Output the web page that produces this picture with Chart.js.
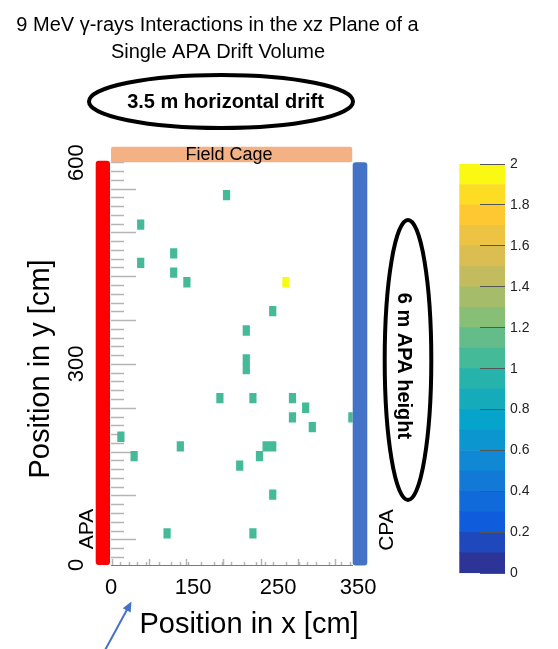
<!DOCTYPE html>
<html>
<head>
<meta charset="utf-8">
<title>9 MeV gamma interactions</title>
<script src="https://cdn.jsdelivr.net/npm/chart.js@4.4.1/dist/chart.umd.min.js"></script>
<style>
  html, body { margin: 0; padding: 0; background: #fff; }
  #wrap { position: relative; width: 558px; height: 649px; }
  #wrap canvas { position: absolute; left: 0; top: 0; }
</style>
</head>
<body>
<div id="wrap">
  <canvas id="heat" width="558" height="649"></canvas>
  <canvas id="zbar" width="558" height="649"></canvas>
</div>
<script>
// filled bins: bin centre x, bin centre y (cm), entries
var cellX = [167.3, 43.0, 90.8, 43.0, 90.8, 109.9, 253.3, 234.2, 195.9, 195.9,
             195.9, 157.7, 205.5, 262.8, 281.9, 262.8, 348.8, 291.5, 14.3, 100.4,
             224.6, 234.2, 33.5, 215.0, 186.4, 234.2, 81.2, 205.5];
var cellY = [551.6, 507.6, 464.9, 450.5, 436.1, 421.7, 421.7, 378.5, 349.7, 306.5,
             292.1, 248.9, 248.9, 248.9, 234.5, 220.1, 220.1, 205.7, 191.3, 176.9,
             176.9, 176.9, 162.5, 162.5, 148.1, 104.9, 47.3, 47.3];
var cellCount = [1, 1, 1, 1, 1, 1, 2, 1, 1, 1,
                 1, 1, 1, 1, 1, 1, 1, 1, 1, 1,
                 1, 1, 1, 1, 1, 1, 1, 1];
var binW = 9.56;   // cm
var binH = 14.4;   // cm

// axis labels as they are printed on the slide
var xTickText = ['0', '150', '250', '350'];
var xTickAt = [0, 119, 242, 358];
var yTickText = ['0', '300', '600'];
var yTickAt = [0, 300, 600];

// colour scale (z), 20 levels
var zLow  = [0, 0.1, 0.2, 0.3, 0.4, 0.5, 0.6, 0.7, 0.8, 0.9, 1.0, 1.1, 1.2, 1.3, 1.4, 1.5, 1.6, 1.7, 1.8, 1.9];
var zHigh = [0.1, 0.2, 0.3, 0.4, 0.5, 0.6, 0.7, 0.8, 0.9, 1.0, 1.1, 1.2, 1.3, 1.4, 1.5, 1.6, 1.7, 1.8, 1.9, 2.0];
var palette = ['#2d3498', '#1e48bb', '#0f5cdd', '#116ada', '#1379d7', '#1188d3', '#0c96cf', '#06a4ca',
               '#16abbb', '#26b3ab', '#45ba98', '#63bc89', '#87bf77', '#a5bd6b', '#c2bc5f', '#dabe51',
               '#ecc342', '#fec832', '#fcdd24', '#f9f914'];

var FONT = "'Liberation Sans', Arial, sans-serif";
var yTop = 600, yTickStep = 13.08;
var xTickStep = 12.9;

function colourFor (v) {
    var i = Math.floor(v / 0.1 + 1e-6);
    if (i > palette.length - 1) i = palette.length - 1;
    if (i < 0) i = 0;
    return palette[i];
}

function yTicks (major) {
    var out = [];
    for (var n = 0; yTop - n * yTickStep >= 0; n++) {
        if ((n % 5 === 3) === major) out.push({ value: yTop - n * yTickStep });
    }
    return out;
}

function xTicks (major) {
    var out = [];
    for (var n = 0; n * xTickStep <= 350; n++) {
        if ((n % 5 === 0) === major) out.push({ value: n * xTickStep });
    }
    return out;
}

function tickAxis (pos, ticksFn, len) {
    return {
        type: 'linear',
        position: pos,
        min: 0,
        max: pos === 'left' ? 600 : 350,
        weight: 0,
        afterBuildTicks: function (s) { s.ticks = ticksFn(); },
        afterFit: function (s) { if (pos === 'left') s.width = 0; else s.height = 0; },
        ticks: { display: false },
        grid: { drawOnChartArea: false, drawTicks: true, tickLength: len, tickColor: '#b4b4b4', tickWidth: 1.5 },
        border: { display: false }
    };
}

function text (ctx, str, x, y, font, rot) {
    ctx.save();
    ctx.translate(x, y);
    if (rot) ctx.rotate(rot);
    ctx.font = font;
    ctx.fillStyle = '#000';
    ctx.textAlign = 'center';
    ctx.textBaseline = 'middle';
    ctx.fillText(str, 0, 0);
    ctx.restore();
}

function box (ctx, x, y, w, h, r, colour) {
    ctx.fillStyle = colour;
    ctx.beginPath();
    if (ctx.roundRect) ctx.roundRect(x, y, w, h, r);
    else ctx.rect(x, y, w, h);
    ctx.fill();
}

function ellipse (ctx, cx, cy, rx, ry) {
    ctx.beginPath();
    ctx.ellipse(cx, cy, rx, ry, 0, 0, Math.PI * 2);
    ctx.lineWidth = 4;
    ctx.strokeStyle = '#000';
    ctx.stroke();
}

// slide decorations drawn on top of the histogram
var slideOverlay = {
    id: 'slideOverlay',
    afterDraw: function (chart) {
        var ctx = chart.ctx;
        var ca = chart.chartArea;
        ctx.save();

        text(ctx, '9 MeV \u03b3-rays Interactions in the xz Plane of a', 217.5, 25, '20px ' + FONT);
        text(ctx, 'Single APA Drift Volume', 218, 52, '20px ' + FONT);

        ellipse(ctx, 221, 101.5, 132, 26.5);
        text(ctx, '3.5 m horizontal drift', 225.5, 102, 'bold 20px ' + FONT);

        ellipse(ctx, 408, 360, 23.3, 140);
        text(ctx, '6 m APA height', 403.5, 366, 'bold 20px ' + FONT, Math.PI / 2);

        // APA, CPA and field cage
        box(ctx, ca.left - 15.3, ca.top - 2, 14.3, ca.bottom - ca.top + 2, 3, '#ff0000');
        box(ctx, ca.right, ca.top - 0.5, 14.6, ca.bottom - ca.top + 1, 3, '#4472c4');
        box(ctx, ca.left, ca.top - 16, ca.right - ca.left - 0.5, 15.6, 2, '#f4b183');
        text(ctx, 'Field Cage', 229, 155, '18px ' + FONT);
        text(ctx, 'APA', 87.5, 529, '21px ' + FONT, -Math.PI / 2);
        text(ctx, 'CPA', 387.5, 530, '21px ' + FONT, -Math.PI / 2);

        text(ctx, 'Position in y [cm]', 40.5, 369, '29px ' + FONT, -Math.PI / 2);
        text(ctx, 'Position in x [cm]', 249, 625, '29px ' + FONT);

        // arrow
        ctx.strokeStyle = '#4472c4';
        ctx.fillStyle = '#4472c4';
        ctx.lineWidth = 2;
        ctx.beginPath();
        ctx.moveTo(104, 652);
        ctx.lineTo(129, 606);
        ctx.stroke();
        ctx.save();
        ctx.translate(131.5, 601.5);
        ctx.rotate(Math.atan2(601.5 - 652, 131.5 - 104));
        ctx.beginPath();
        ctx.moveTo(0, 0);
        ctx.lineTo(-10, -4.5);
        ctx.lineTo(-10, 4.5);
        ctx.closePath();
        ctx.fill();
        ctx.restore();

        ctx.restore();
    }
};

var cells = cellX.map(function (x, i) {
    return { x: x, y: [cellY[i] - binH / 2, cellY[i] + binH / 2] };
});

new Chart(document.getElementById('heat'), {
    type: 'bar',
    data: {
        datasets: [{
            data: cells,
            backgroundColor: cellCount.map(colourFor),
            borderWidth: 0,
            barPercentage: 1,
            categoryPercentage: 1
        }]
    },
    options: {
        responsive: false,
        animation: false,
        devicePixelRatio: 1,
        events: [],
        layout: { padding: { left: 0, right: 205.3, top: 162.7, bottom: 0 } },
        plugins: { legend: { display: false }, tooltip: { enabled: false } },
        scales: {
            x: {
                type: 'linear',
                position: 'bottom',
                min: 0,
                max: 350,
                offset: false,
                weight: 10,
                afterBuildTicks: function (s) {
                    s.ticks = xTickAt.map(function (v) { return { value: v }; });
                },
                afterFit: function (s) { s.height = 84; },
                ticks: {
                    autoSkip: false,
                    maxRotation: 0,
                    minRotation: 0,
                    padding: 10,
                    color: '#000',
                    font: { family: FONT, size: 22 },
                    callback: function (v, i) { return xTickText[i]; }
                },
                grid: { display: true, drawOnChartArea: false, drawTicks: false, offset: false },
                border: { display: true, color: '#7a7a7a', width: 1 }
            },
            xMinor: tickAxis('bottom', function () { return xTicks(false); }, -3),
            xMajor: tickAxis('bottom', function () { return xTicks(true); }, -6),
            y: {
                type: 'linear',
                position: 'left',
                min: 0,
                max: 600,
                weight: 10,
                afterBuildTicks: function (s) {
                    s.ticks = yTickAt.map(function (v) { return { value: v }; });
                },
                afterFit: function (s) { s.width = 111; },
                ticks: {
                    autoSkip: false,
                    minRotation: 90,
                    maxRotation: 90,
                    crossAlign: 'center',
                    padding: 16,
                    color: '#000',
                    font: { family: FONT, size: 22 },
                    callback: function (v, i) { return yTickText[i]; }
                },
                grid: { drawOnChartArea: false, drawTicks: false },
                border: { display: false }
            },
            yMinor: tickAxis('left', function () { return yTicks(false); }, -13),
            yMajor: tickAxis('left', function () { return yTicks(true); }, -25)
        }
    },
    plugins: [slideOverlay]
});

// colour bar
new Chart(document.getElementById('zbar'), {
    type: 'bar',
    data: {
        labels: ['z'],
        datasets: zLow.map(function (lo, i) {
            return {
                data: [[lo, zHigh[i]]],
                backgroundColor: palette[i],
                borderWidth: 0,
                grouped: false,
                barPercentage: 1,
                categoryPercentage: 1
            };
        })
    },
    options: {
        responsive: false,
        animation: false,
        devicePixelRatio: 1,
        events: [],
        layout: { padding: { left: 459.3, right: 0, top: 164, bottom: 75.7 } },
        plugins: { legend: { display: false }, tooltip: { enabled: false } },
        scales: {
            x: { display: false },
            y: {
                position: 'right',
                min: 0,
                max: 2,
                z: 1,
                afterFit: function (s) { s.width = 53; },
                ticks: {
                    stepSize: 0.2,
                    padding: 30,
                    color: '#222',
                    font: { family: FONT, size: 14 },
                    callback: function (v) { return String(Math.round(v * 10) / 10); }
                },
                grid: { z: 1, drawOnChartArea: false, drawTicks: true, tickLength: -25, tickColor: '#555', tickWidth: 1 },
                border: { display: false }
            }
        }
    }
});
</script>
</body>
</html>
